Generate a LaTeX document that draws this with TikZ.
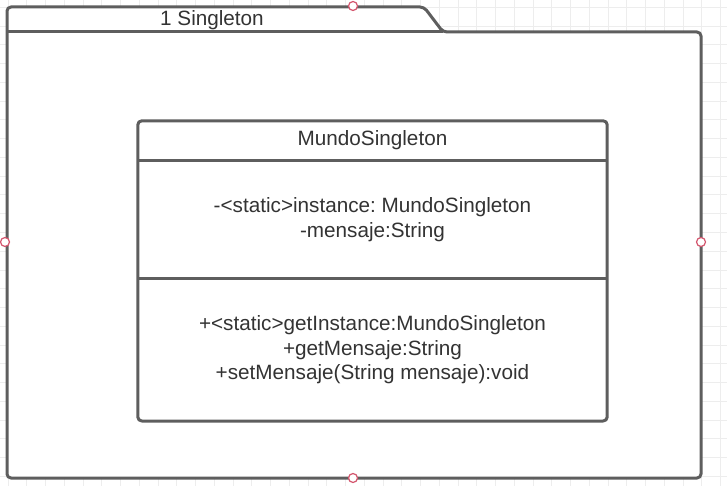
\documentclass[tikz,border=0pt]{standalone}
\usepackage{fontspec}
\setmainfont{Liberation Sans}
\usepackage{tikz}
\usetikzlibrary{positioning}
\definecolor{umlline}{HTML}{5E5E5E}
\definecolor{umltext}{HTML}{333333}
\definecolor{gridline}{HTML}{EDEDED}
\definecolor{handlered}{HTML}{D4566E}

\begin{document}
\frenchspacing
\begin{tikzpicture}[x=1pt, y=-1pt, node distance=0pt,
    outline/.style={draw=umlline, line width=3pt, line join=round},
    part/.style={minimum width=469pt, inner sep=0pt, align=center, text=umltext,
        font=\fontsize{20.7}{24.5}\selectfont},
    handle/.style={circle, draw=handlered, fill=white, line width=1.2pt, minimum size=9pt, inner sep=0pt}
]
    \useasboundingbox[fill=white] (0,0) rectangle (727,486);
    \foreach \gx in {0,...,38} \draw[gridline, line width=1pt] (8.2+18.75*\gx,0) -- (8.2+18.75*\gx,486);
    \foreach \gy in {0,...,25} \draw[gridline, line width=1pt] (0,7.5+18.75*\gy) -- (727,7.5+18.75*\gy);
    \draw[outline, fill=white, rounded corners=4pt] (7,478) -- (7,7) -- (424,7) -- (443,32) -- (701,32) -- (701,478) -- cycle;
    \draw[outline] (7,32) -- (443,32);
    \node[part, minimum width=0pt] (pkgname) at (212,20.5) {1 Singleton};
    \node[part, minimum height=39pt] (head) at (372.5,140.5) {MundoSingleton};
    \node[part, minimum height=118pt, below=of head] (attrs) {-<static>instance: MundoSingleton\\-mensaje:String};
    \node[part, minimum height=142pt, below=of attrs] (ops) {+<static>getInstance:MundoSingleton\\+getMensaje:String\\+setMensaje(String mensaje):void};
    \draw[outline, rounded corners=4pt] (head.north west) rectangle (ops.south east);
    \draw[outline] (attrs.north west) -- (attrs.north east);
    \draw[outline] (ops.north west) -- (ops.north east);
    \node[handle] (hn) at (353,6) {};
    \node[handle] (hw) at (5,242) {};
    \node[handle] (he) at (701,242) {};
    \node[handle] (hs) at (353,478) {};
\end{tikzpicture}
\end{document}
